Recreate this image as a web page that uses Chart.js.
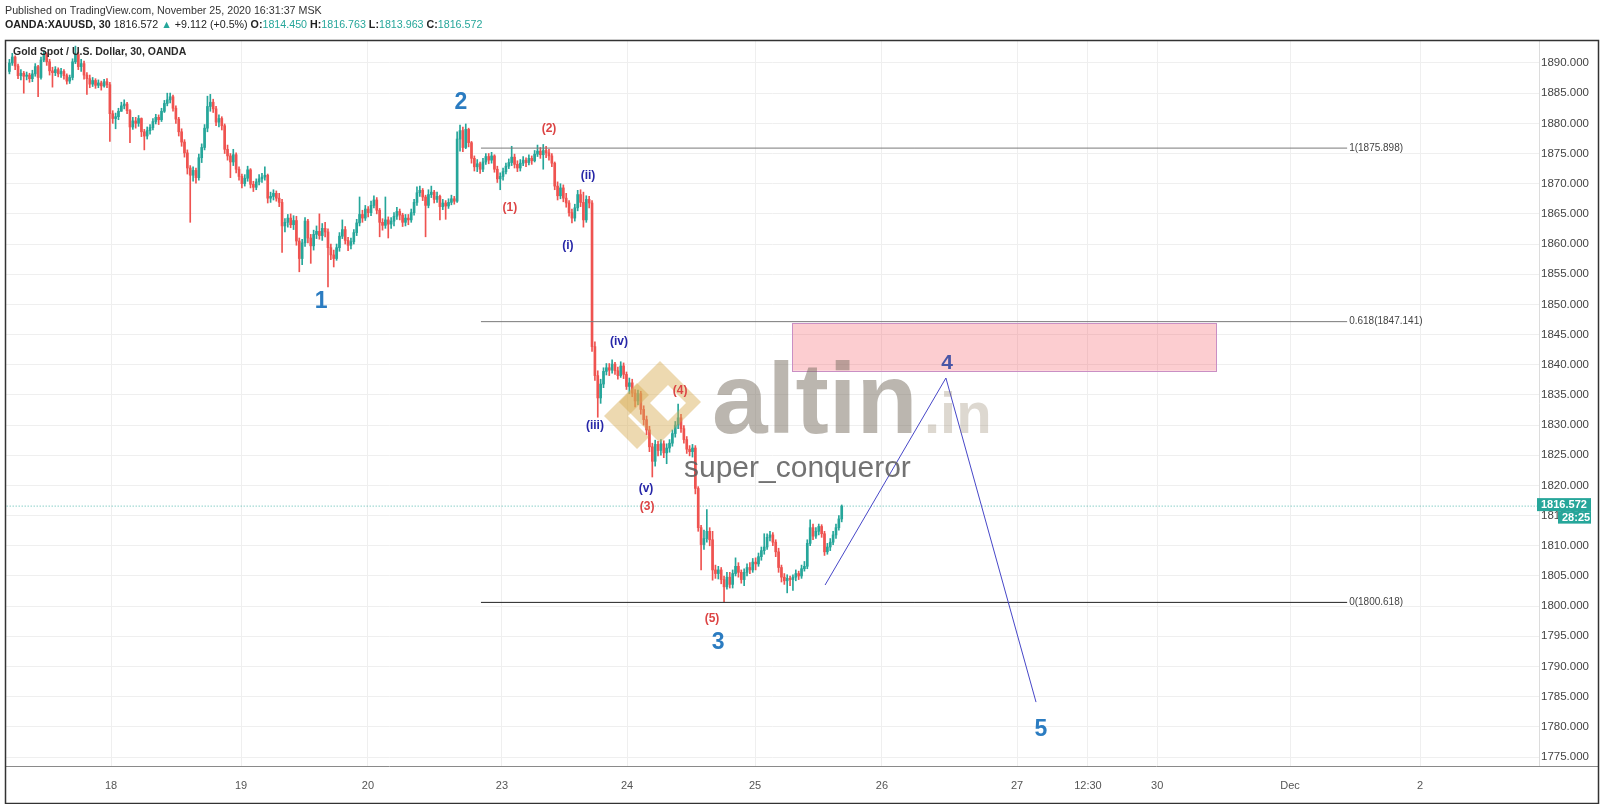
<!DOCTYPE html>
<html>
<head>
<meta charset="utf-8">
<script src="https://cdn.jsdelivr.net/npm/chart.js@4.4.0/dist/chart.umd.min.js"></script>
<style>
  html, body { margin: 0; padding: 0; background: #fff; }
  #wrap { width: 1600px; height: 804px; }
</style>
</head>
<body>
<div id="wrap"><canvas id="chart" width="1600" height="804"></canvas></div>
<script>
// 30 min candles, bar index 0 = start of the 18th
const firstBar = -34;
const firstOpen = 1888.6;
const closes = [
  1890.0,1891.0,1889.5,1887.9,1888.3,1887.8,1888.0,1887.4,1888.2,1889.4,
  1887.6,1890.5,1891.4,1890.2,1888.7,1888.4,1888.9,1888.2,1888.6,1887.9,
  1887.0,1887.6,1890.2,1891.4,1889.4,1889.9,1888.0,1887.4,1886.5,1887.1,
  1886.3,1886.7,1886.2,1886.9,1886.4,1881.6,1880.8,1881.1,1882.0,1882.9,
  1883.2,1882.1,1879.4,1880.4,1880.0,1880.8,1878.6,1877.9,1878.8,1879.3,
  1880.3,1881.0,1880.6,1882.0,1883.3,1883.9,1884.4,1882.5,1880.7,1878.6,
  1876.9,1875.1,1872.6,1871.4,1872.2,1871.0,1874.3,1876.0,1879.2,1882.8,
  1883.5,1882.4,1880.2,1880.8,1879.6,1875.7,1874.6,1873.6,1874.8,1872.4,
  1871.2,1870.0,1870.9,1872.3,1869.9,1869.4,1870.3,1870.8,1871.1,1871.4,
  1867.6,1867.9,1868.4,1867.6,1866.9,1863.0,1863.6,1864.3,1863.2,1863.9,
  1860.5,1857.6,1860.2,1863.8,1861.0,1859.7,1861.6,1862.1,1861.4,1862.6,
  1862.0,1859.4,1858.2,1857.6,1859.4,1861.3,1862.4,1860.6,1859.8,1860.4,
  1861.9,1863.5,1864.9,1864.3,1865.8,1865.2,1866.4,1867.3,1865.6,1863.6,
  1863.1,1864.0,1863.3,1863.8,1864.6,1865.4,1864.8,1863.6,1864.3,1864.0,
  1865.2,1866.9,1868.5,1868.9,1867.8,1866.4,1868.2,1868.6,1867.4,1867.9,
  1866.2,1866.8,1866.3,1866.9,1867.5,1867.1,1877.4,1878.8,1876.0,1879.0,
  1876.8,1874.2,1872.8,1873.3,1872.4,1873.6,1874.5,1873.9,1874.6,1872.4,
  1870.8,1871.2,1872.0,1872.9,1873.5,1874.4,1873.2,1872.6,1873.4,1873.9,
  1873.5,1874.2,1873.8,1874.9,1875.4,1874.8,1875.5,1875.1,1874.6,1873.4,
  1869.6,1868.0,1869.3,1867.6,1866.8,1865.2,1864.3,1866.0,1868.2,1866.9,
  1864.0,1867.4,1866.8,1843.0,1838.2,1834.5,1836.8,1838.9,1839.5,1839.1,
  1840.1,1839.0,1838.2,1839.8,1838.4,1836.4,1837.0,1835.3,1834.0,1835.2,
  1832.6,1830.9,1829.2,1826.4,1824.0,1826.8,1825.8,1826.9,1825.4,1826.2,
  1827.0,1828.6,1830.0,1831.2,1829.4,1827.6,1826.0,1825.6,1826.2,1819.5,
  1813.0,1810.2,1811.2,1812.4,1811.0,1806.0,1805.4,1806.0,1804.4,1803.2,
  1804.8,1803.6,1805.4,1806.6,1805.6,1804.4,1805.6,1806.4,1806.0,1807.3,
  1807.0,1808.2,1809.2,1809.8,1811.4,1811.8,1810.6,1809.0,1806.4,1804.8,
  1804.2,1804.6,1804.4,1804.8,1805.4,1805.0,1806.2,1806.6,1810.4,1813.0,
  1811.6,1812.4,1813.2,1812.0,1809.0,1809.8,1810.6,1811.8,1813.0,1814.45,1816.572
];
const highs = [
  1890.6,1891.6,1891.2,1889.8,1888.9,1888.6,1888.5,1888.3,1888.8,1889.9,
  1889.6,1891.0,1892.0,1891.7,1890.6,1889.3,1889.4,1889.2,1889.1,1888.9,
  1888.2,1888.0,1890.7,1892.8,1891.8,1890.6,1890.3,1888.4,1888.0,1887.6,
  1887.4,1887.2,1887.0,1887.3,1887.4,1886.8,1882.1,1881.7,1882.5,1883.5,
  1883.9,1883.5,1882.3,1881.0,1881.0,1881.3,1880.9,1879.0,1879.4,1879.8,
  1880.8,1881.5,1881.4,1882.5,1883.8,1885.0,1885.0,1884.7,1882.9,1881.0,
  1879.1,1877.3,1875.6,1873.0,1872.8,1872.6,1874.9,1876.6,1879.8,1884.5,
  1884.8,1884.0,1882.8,1881.4,1881.1,1879.9,1876.4,1875.0,1875.7,1875.1,
  1872.8,1871.6,1871.5,1872.9,1872.5,1870.4,1870.8,1871.5,1871.7,1872.8,
  1871.6,1868.6,1869.0,1868.8,1868.4,1867.4,1864.2,1864.9,1865.0,1864.7,
  1864.6,1861.0,1860.8,1864.4,1864.1,1861.6,1862.3,1863.0,1865.0,1863.4,
  1863.6,1862.5,1860.0,1859.0,1860.0,1861.9,1864.0,1862.9,1861.1,1861.0,
  1862.4,1864.1,1867.8,1865.6,1866.4,1866.2,1867.1,1868.0,1867.7,1865.9,
  1864.2,1867.8,1864.5,1864.4,1865.2,1866.1,1865.8,1865.1,1864.9,1864.9,
  1865.8,1867.4,1869.5,1869.6,1869.2,1868.1,1869.0,1869.6,1868.9,1868.6,
  1868.1,1867.4,1867.2,1867.5,1868.1,1867.9,1878.6,1879.7,1879.4,1879.9,
  1879.2,1877.0,1874.6,1874.0,1873.6,1874.2,1875.0,1875.0,1875.2,1874.8,
  1872.9,1871.8,1872.6,1873.4,1874.1,1876.2,1874.9,1873.8,1874.0,1874.5,
  1874.3,1874.8,1874.6,1875.5,1876.4,1876.0,1876.5,1876.2,1875.7,1875.0,
  1873.6,1870.3,1870.0,1869.8,1868.4,1867.2,1865.8,1866.6,1868.9,1869.0,
  1868.6,1868.0,1867.9,1867.2,1843.8,1839.0,1837.6,1839.5,1840.2,1840.2,
  1840.8,1840.4,1839.6,1840.5,1840.3,1838.8,1837.8,1837.6,1835.9,1835.8,
  1835.6,1833.2,1831.5,1829.8,1827.0,1827.5,1827.3,1827.6,1827.4,1826.9,
  1827.6,1829.2,1830.6,1833.5,1831.8,1829.9,1828.1,1826.6,1826.8,1826.6,
  1819.8,1813.4,1812.6,1816.0,1813.0,1812.4,1806.8,1806.6,1806.4,1805.0,
  1805.6,1805.6,1806.0,1808.0,1807.2,1806.0,1806.2,1807.0,1807.2,1807.9,
  1808.0,1808.8,1809.8,1812.0,1812.0,1812.4,1812.2,1811.0,1809.6,1806.8,
  1805.4,1805.2,1805.0,1805.2,1806.0,1805.8,1806.8,1807.4,1811.0,1814.3,
  1813.6,1813.0,1813.6,1813.5,1812.4,1810.4,1811.2,1812.4,1813.6,1815.0,1816.763
];
const lows = [
  1888.2,1889.6,1888.9,1887.4,1887.2,1885.0,1887.2,1886.8,1886.9,1887.8,
  1884.4,1887.3,1890.2,1889.6,1888.0,1886.0,1887.9,1887.7,1887.6,1887.3,
  1886.5,1886.6,1887.2,1889.9,1888.9,1888.6,1887.3,1884.8,1885.9,1886.1,
  1885.8,1885.9,1885.5,1886.0,1885.9,1877.0,1880.0,1879.1,1880.6,1882.0,
  1882.4,1881.6,1876.8,1879.0,1879.2,1879.5,1877.8,1875.6,1877.4,1878.2,
  1878.9,1879.9,1879.8,1880.3,1881.8,1882.9,1883.4,1882.0,1880.0,1877.9,
  1876.2,1874.4,1871.6,1863.6,1870.4,1870.1,1870.6,1873.5,1875.6,1878.6,
  1882.0,1881.8,1879.6,1879.4,1878.9,1875.0,1873.9,1871.0,1873.0,1871.8,
  1870.6,1869.3,1869.6,1870.4,1869.3,1868.7,1869.0,1869.8,1870.2,1870.6,
  1866.8,1866.9,1867.3,1867.1,1866.2,1858.6,1862.0,1862.8,1862.7,1862.4,
  1859.8,1855.4,1856.6,1859.6,1860.2,1856.8,1859.0,1860.9,1860.8,1860.6,
  1861.2,1852.9,1857.4,1856.2,1857.3,1858.8,1860.9,1860.0,1858.9,1859.2,
  1860.0,1861.4,1863.0,1863.6,1863.9,1864.5,1864.7,1866.0,1865.0,1861.2,
  1862.3,1862.6,1861.0,1862.6,1863.0,1864.1,1864.0,1862.9,1863.0,1863.2,
  1863.6,1864.8,1866.4,1867.9,1867.2,1861.2,1866.0,1867.7,1866.8,1866.9,
  1864.0,1865.7,1864.1,1865.9,1866.5,1866.6,1866.9,1875.4,1875.3,1875.8,
  1876.1,1873.4,1872.1,1872.0,1871.7,1872.0,1873.2,1873.3,1873.4,1871.9,
  1870.2,1869.0,1870.6,1871.6,1872.5,1873.0,1872.6,1872.0,1872.1,1873.0,
  1872.8,1873.1,1873.2,1873.6,1874.5,1874.2,1872.4,1874.3,1873.9,1872.8,
  1869.0,1867.3,1867.5,1867.0,1866.1,1864.6,1863.5,1863.8,1865.5,1866.2,
  1862.8,1863.6,1866.0,1842.2,1837.4,1831.3,1833.6,1836.2,1838.3,1838.2,
  1838.6,1838.4,1837.6,1837.9,1837.7,1835.9,1835.2,1834.7,1833.0,1833.4,
  1831.8,1830.0,1828.4,1825.6,1821.4,1823.2,1824.9,1825.0,1824.6,1823.6,
  1825.5,1826.5,1828.0,1829.4,1828.8,1827.0,1825.3,1824.9,1824.7,1818.6,
  1812.4,1806.0,1809.4,1810.6,1810.0,1804.3,1804.6,1804.5,1803.7,1800.7,
  1802.8,1803.0,1803.0,1805.0,1804.8,1803.8,1803.4,1805.0,1805.4,1805.6,
  1806.0,1806.6,1807.6,1808.6,1809.4,1810.8,1810.0,1808.2,1805.6,1804.0,
  1803.6,1802.2,1803.4,1802.6,1804.2,1804.4,1804.6,1805.8,1806.2,1810.0,
  1811.0,1811.2,1811.8,1811.4,1808.4,1808.6,1809.2,1810.2,1811.2,1812.6,1813.963
];

const timeTickBars = [1.4, 46.7, 90.9, 137.6, 181.2, 225.8, 270.0, 317.1, 341.8, 365.9, 412.2, 457.5];
const timeTickLabels = ['18', '19', '20', '23', '24', '25', '26', '27', '12:30', '30', 'Dec', '2'];
const priceTicks = [1775,1780,1785,1790,1795,1800,1805,1810,1815,1820,1825,1830,
  1835,1840,1845,1850,1855,1860,1865,1870,1875,1880,1885,1890];

// fibonacci levels drawn from bar 130 to bar 432
const fibLabels = ['1(1875.898)', '0.618(1847.141)', '0(1800.618)'];
const fibPrices = [1875.898, 1847.141, 1800.618];
const fibBars = [130.3, 432.1];

// target zone
const zoneBars = [238.7, 386.4];
const zonePrices = [1846.9, 1839.0];

// projected path 3 -> 4 -> 5
const pathBars = [250.2, 292.3, 323.7];
const pathPrices = [1803.5, 1837.8, 1784.1];

const lastPrice = 1816.572;
const timeLeft = '28:25';
const change = '+9.112 (+0.5%)';

// wave labels: text, bar, price
const majorWaves = [['1', 74.6, 1850.4], ['2', 123.3, 1883.5], ['3', 212.9, 1793.9], ['5', 325.4, 1779.6]];
const waveFour = ['4', 292.7, 1840.3];
const minorWaves = [['(1)', 140.4, 1866.0], ['(2)', 154.0, 1879.1], ['(3)', 188.2, 1816.4], ['(4)', 199.7, 1835.7], ['(5)', 210.8, 1798.0]];
const subWaves = [['(i)', 160.6, 1859.7], ['(ii)', 167.6, 1871.3], ['(iii)', 170.0, 1829.9], ['(iv)', 178.4, 1843.8], ['(v)', 187.8, 1819.4]];

const UP = '#26a69a';
const DOWN = '#ef5350';
const FONT = '"Liberation Sans", Arial, "DejaVu Sans", sans-serif';

const bars = closes.map((c, k) => firstBar + k);
const opens = closes.map((c, k) => k ? closes[k - 1] : firstOpen);
const candleColors = closes.map((c, k) => c >= opens[k] ? UP : DOWN);

const fmt = v => v.toFixed(3);

const overlay = {
  id: 'overlay',
  beforeDraw(chart) {
    const ctx = chart.ctx;
    ctx.save();
    ctx.fillStyle = '#fff';
    ctx.fillRect(0, 0, chart.width, chart.height);
    ctx.restore();
  },
  beforeDatasetsDraw(chart) {
    const { ctx, scales: { x, y } } = chart;
    const l = x.getPixelForValue(zoneBars[0]), r = x.getPixelForValue(zoneBars[1]);
    const t = y.getPixelForValue(zonePrices[0]), b = y.getPixelForValue(zonePrices[1]);
    ctx.save();
    ctx.fillStyle = 'rgba(242,54,69,0.25)';
    ctx.fillRect(l, t, r - l, b - t);
    ctx.strokeStyle = '#c98fc4';
    ctx.lineWidth = 1;
    ctx.strokeRect(Math.round(l) + 0.5, Math.round(t) + 0.5, Math.round(r - l), Math.round(b - t));
    ctx.restore();
  },
  afterDatasetsDraw(chart) {
    const { ctx, scales: { x, y } } = chart;
    ctx.save();

    // watermark logo
    ctx.fillStyle = 'rgba(215,170,80,0.45)';
    ctx.beginPath();
    ctx.moveTo(660, 361); ctx.lineTo(701, 402); ctx.lineTo(660, 443); ctx.lineTo(619, 402); ctx.closePath();
    ctx.moveTo(668, 385); ctx.lineTo(650, 403); ctx.lineTo(668, 421); ctx.lineTo(686, 403); ctx.closePath();
    ctx.fill('evenodd');
    ctx.beginPath();
    ctx.moveTo(604, 416); ctx.lineTo(637, 383); ctx.lineTo(649, 395); ctx.lineTo(628, 416);
    ctx.lineTo(649, 437); ctx.lineTo(637, 449); ctx.closePath();
    ctx.fill();

    ctx.textBaseline = 'alphabetic';
    ctx.textAlign = 'left';
    ctx.fillStyle = 'rgba(120,110,95,0.5)';
    ctx.font = `bold 100px ${FONT}`;
    ctx.fillText('altin', 712, 433);
    ctx.fillStyle = 'rgba(150,135,110,0.32)';
    ctx.font = `bold 58px ${FONT}`;
    ctx.fillText('.in', 924, 433);
    ctx.fillStyle = 'rgba(95,95,95,0.88)';
    ctx.font = `30px ${FONT}`;
    ctx.fillText('super_conqueror', 684, 477);

    // fib labels
    ctx.font = `10px ${FONT}`;
    ctx.fillStyle = '#444';
    ctx.textBaseline = 'middle';
    fibLabels.forEach((t, i) => {
      ctx.fillText(t, x.getPixelForValue(fibBars[1]) + 2, y.getPixelForValue(fibPrices[i]));
    });

    // wave labels
    ctx.textAlign = 'center';
    const put = (list, font, color) => {
      ctx.font = font;
      ctx.fillStyle = color;
      list.forEach(([t, b, p]) => ctx.fillText(t, x.getPixelForValue(b), y.getPixelForValue(p)));
    };
    put(majorWaves, `bold 23px ${FONT}`, '#2b7cc1');
    put([waveFour], `bold 21px ${FONT}`, '#4a56a6');
    put(minorWaves, `bold 12px ${FONT}`, '#dc4444');
    put(subWaves, `bold 12px ${FONT}`, '#2626a8');

    // symbol title
    ctx.textAlign = 'left';
    ctx.font = `bold 10.5px ${FONT}`;
    ctx.fillStyle = '#2a2a2a';
    ctx.fillText('Gold Spot / U.S. Dollar, 30, OANDA', 13, 52);
    ctx.restore();
  },
  afterDraw(chart) {
    const { ctx, scales: { y } } = chart;
    const last = closes.length - 1;
    ctx.save();

    // header
    ctx.textBaseline = 'middle';
    ctx.textAlign = 'left';
    ctx.fillStyle = '#333';
    ctx.font = `10.7px ${FONT}`;
    ctx.fillText('Published on TradingView.com, November 25, 2020 16:31:37 MSK', 5, 11);
    const segs = [
      ['OANDA:XAUUSD, 30 ', 'bold', '#222'],
      [fmt(closes[last]) + ' ', '', '#222'],
      ['\u25B2 ', '', UP],
      [change + ' ', '', '#222'],
      ['O:', 'bold', '#222'], [fmt(opens[last]) + ' ', '', UP],
      ['H:', 'bold', '#222'], [fmt(highs[last]) + ' ', '', UP],
      ['L:', 'bold', '#222'], [fmt(lows[last]) + ' ', '', UP],
      ['C:', 'bold', '#222'], [fmt(closes[last]), '', UP]
    ];
    let xx = 5;
    segs.forEach(([t, w, c]) => {
      ctx.font = `${w} 10.7px ${FONT}`;
      ctx.fillStyle = c;
      ctx.fillText(t, xx, 25);
      xx += ctx.measureText(t).width;
    });

    // last price boxes on the price axis
    const py = y.getPixelForValue(lastPrice);
    ctx.fillStyle = UP;
    ctx.fillRect(1537, py - 8, 54, 13);
    ctx.fillRect(1558, py + 5, 33, 12.5);
    ctx.fillStyle = '#fff';
    ctx.font = `bold 11px ${FONT}`;
    ctx.fillText(fmt(lastPrice), 1541, py - 1.5);
    ctx.fillText(timeLeft, 1562, py + 11.5);

    // axis separator and frame
    ctx.strokeStyle = '#8a8a8a';
    ctx.lineWidth = 1;
    ctx.beginPath();
    ctx.moveTo(1539, 766.5); ctx.lineTo(1598, 766.5);
    ctx.stroke();
    ctx.strokeStyle = '#333';
    ctx.lineWidth = 1.5;
    ctx.strokeRect(5.5, 40.5, 1593, 763);
    ctx.restore();
  }
};

new Chart(document.getElementById('chart'), {
  type: 'bar',
  data: {
    datasets: [
      {
        label: 'wicks',
        data: bars.map((b, k) => ({ x: b, y: [Math.min(lows[k], opens[k], closes[k]), Math.max(highs[k], opens[k], closes[k])] })),
        backgroundColor: candleColors,
        barThickness: 1,
        grouped: false,
        order: 3
      },
      {
        label: 'bodies',
        data: bars.map((b, k) => ({ x: b, y: [opens[k], closes[k]] })),
        backgroundColor: candleColors,
        barThickness: 2,
        minBarLength: 1,
        grouped: false,
        order: 2
      },
      {
        type: 'line',
        label: 'last',
        data: [{ x: -36, y: lastPrice }, { x: 500, y: lastPrice }],
        borderColor: 'rgba(38,166,154,0.8)',
        borderWidth: 1,
        borderDash: [1, 2],
        pointRadius: 0,
        order: 4
      },
      ...fibPrices.map((p, i) => ({
        type: 'line',
        label: fibLabels[i],
        data: fibBars.map(b => ({ x: b, y: p })),
        borderColor: i === 2 ? '#222' : '#7a7a7a',
        borderWidth: 1,
        pointRadius: 0,
        order: 1
      })),
      {
        type: 'line',
        label: 'path',
        data: pathBars.map((b, i) => ({ x: b, y: pathPrices[i] })),
        borderColor: '#4747c8',
        borderWidth: 1,
        pointRadius: 0,
        order: 0
      }
    ]
  },
  options: {
    responsive: false,
    animation: false,
    devicePixelRatio: 1,
    layout: { padding: { top: 40, left: 6, right: 1, bottom: 1 } },
    plugins: { legend: { display: false }, tooltip: { enabled: false } },
    scales: {
      x: {
        type: 'linear',
        min: -35.19,
        max: 498.95,
        offset: false,
        afterBuildTicks: s => { s.ticks = timeTickBars.map(v => ({ value: v })); },
        afterFit: s => { s.height = 37; },
        grid: { color: '#efefef', offset: false, drawTicks: false },
        border: { display: true, color: '#8a8a8a' },
        ticks: {
          autoSkip: false,
          maxRotation: 0,
          padding: 13,
          color: '#555',
          font: { size: 11, family: FONT },
          callback: (v, i) => timeTickLabels[i]
        }
      },
      y: {
        position: 'right',
        min: 1773.51,
        max: 1893.81,
        afterBuildTicks: s => { s.ticks = priceTicks.map(v => ({ value: v })); },
        afterFit: s => { s.width = 60; },
        grid: { color: '#efefef', drawTicks: false },
        border: { display: true, color: '#dcdcdc' },
        ticks: {
          padding: 2,
          color: '#444',
          font: { size: 11.5, family: FONT },
          callback: v => fmt(v)
        }
      }
    }
  },
  plugins: [overlay]
});
</script>
</body>
</html>
